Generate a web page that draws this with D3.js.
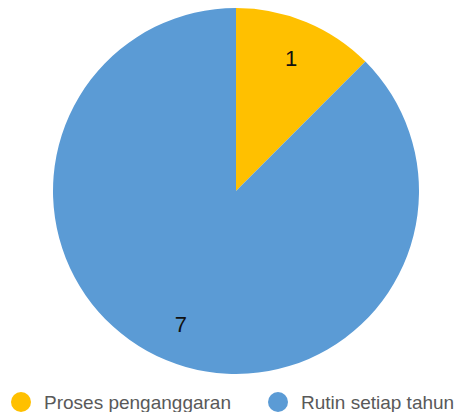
<!DOCTYPE html>
<html><head><meta charset="utf-8">
<script src="https://cdn.jsdelivr.net/npm/d3@7"></script>
<style>body{margin:0;background:#fff}svg{display:block}</style>
</head><body>
<svg id="c" width="460" height="412"></svg>
<script>
const categories = ["Proses penganggaran", "Rutin setiap tahun"];
const values = [1, 7];
const colors = ["#FFC000", "#5B9BD5"];

const svg = d3.select("#c");
const cx = 236, cy = 191, r = 183, lr = 144;
const pie = d3.pie().sort(null).value(d => d)(values);
const arc = d3.arc().innerRadius(0).outerRadius(r);
const labelArc = d3.arc().innerRadius(lr).outerRadius(lr);
const g = svg.append("g").attr("transform", `translate(${cx},${cy})`);
g.selectAll("path").data(pie).join("path")
  .attr("d", arc).attr("fill", (d, i) => colors[i]);
g.selectAll("text").data(pie).join("text")
  .attr("transform", d => `translate(${labelArc.centroid(d)})`)
  .attr("text-anchor", "middle").attr("dy", "0.35em")
  .attr("font-family", "Liberation Sans, Arial, sans-serif")
  .attr("font-size", 22).attr("fill", "#111")
  .text(d => d.data);

const legX = [21, 278];
const lg = svg.append("g");
categories.forEach((c, i) => {
  lg.append("circle").attr("cx", legX[i]).attr("cy", 402).attr("r", 10).attr("fill", colors[i]);
  lg.append("text").attr("x", legX[i] + 23).attr("y", 402).attr("dy", "0.35em")
    .attr("font-family", "Liberation Sans, Arial, sans-serif")
    .attr("font-size", 19).attr("fill", "#595959").text(c);
});
</script>
</body></html>
